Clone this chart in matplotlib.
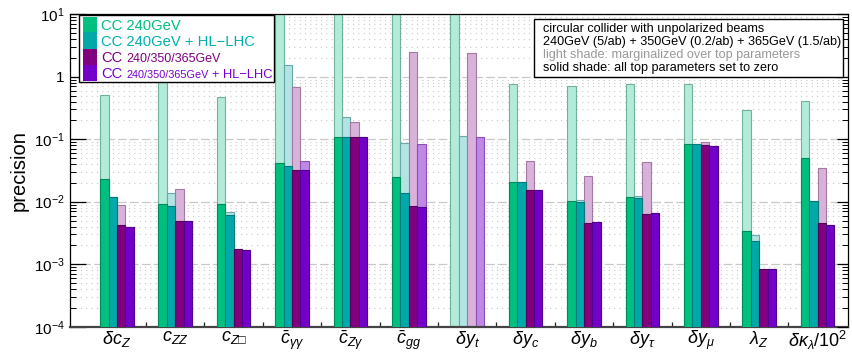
import numpy as np
import matplotlib
matplotlib.use("Agg")
import matplotlib.pyplot as plt
from matplotlib.patches import Rectangle
from matplotlib.ticker import FixedLocator, FixedFormatter, LogLocator, NullFormatter

plt.rcParams['font.family'] = ['Liberation Sans', 'DejaVu Sans']
plt.rcParams['mathtext.fontset'] = 'custom'
plt.rcParams['mathtext.rm'] = 'Liberation Sans'
plt.rcParams['mathtext.it'] = 'Liberation Sans:italic'
plt.rcParams['mathtext.bf'] = 'Liberation Sans:bold'
plt.rcParams['mathtext.fallback'] = 'stixsans'

# ---------------- data ----------------
labels = [r'$\delta c_Z$', r'$c_{ZZ}$', '$c_{Z\u25a1}$', r'$\bar{c}_{\gamma\gamma}$',
          r'$\bar{c}_{Z\gamma}$', r'$\bar{c}_{gg}$', r'$\delta y_t$', r'$\delta y_c$',
          r'$\delta y_b$', r'$\delta y_\tau$', r'$\delta y_\mu$', r'$\lambda_Z$',
          r'$\delta\kappa_\lambda/10^2$']
nan = np.nan
# light shade: marginalized over top parameters
green_light  = [0.51, 3.0, 0.468, 20, 20, 20, 20, 0.755, 0.71, 0.755, 0.755, 0.29, 0.413]
teal_light   = [0.012, 0.0136, 0.00676, 1.52, 0.224, 0.0859, 0.112, 0.0207, 0.0106, 0.0123, 0.0838, 0.0029, 0.0101]
purple_light = [0.00875, 0.0158, 0.00175, 0.676, 0.186, 2.46, 2.37, 0.0448, 0.0258, 0.0432, 0.0902, 0.000848, 0.0346]
violet_light = [0.00398, 0.0049, 0.0017, 0.0443, 0.107, 0.0838, 0.108, 0.0155, 0.0047, 0.0065, 0.0778, 0.000848, 0.0042]
# solid shade: all top parameters set to zero
green_solid  = [0.0231, 0.0092, 0.0092, 0.0411, 0.110, 0.0245, nan, 0.0209, 0.0103, 0.0120, 0.0838, 0.0034, 0.0506]
teal_solid   = [0.012, 0.0085, 0.00612, 0.0377, 0.110, 0.0136, nan, 0.0207, 0.0099, 0.0114, 0.0838, 0.00232, 0.0101]
purple_solid = [0.00419, 0.0049, 0.00175, 0.0321, 0.107, 0.0085, nan, 0.0156, 0.0045, 0.00643, 0.0798, 0.000848, 0.0045]
violet_solid = [0.00398, 0.0049, 0.0017, 0.0321, 0.107, 0.0082, nan, 0.0155, 0.0047, 0.0065, 0.0778, 0.000848, 0.0042]

series_names = ['CC 240GeV', 'CC 240GeV + HL\u2212LHC', 'CC 240/350/365GeV', 'CC 240/350/365GeV + HL\u2212LHC']
solid_colors = ['#00c080', '#00a8a8', '#800080', '#7300c8']
solid_edges  = ['#008a5c', '#007a7a', '#5a005a', '#50008c']
light_colors = ['#b2ebd9', '#b2e4e4', '#d9b2d9', '#bf88e4']
light_edges  = ['#6fb39a', '#6aa8a8', '#a478a4', '#8a50b8']

W, H = 852, 354
fig = plt.figure(figsize=(W/100, H/100), dpi=100)
def fx(px): return px / W
def fy(py): return 1 - py / H

ax = fig.add_axes([fx(70.3), fy(326.7), fx(848) - fx(70.3), fy(14.2) - fy(326.7)])
ax.set_yscale('log')
ax.set_ylim(1e-4, 10)
ax.set_xlim(-0.798, 12.52)
ax.set_axisbelow(True)

x = np.arange(len(labels))
bw = 0.1438
offs = np.array([-1.5, -0.5, 0.5, 1.5]) * bw
lights = [green_light, teal_light, purple_light, violet_light]
solids = [green_solid, teal_solid, purple_solid, violet_solid]
for k in range(4):
    ax.bar(x + offs[k], lights[k], bw, color=light_colors[k], edgecolor=light_edges[k], linewidth=0.8, zorder=2)
for k in range(4):
    ax.bar(x + offs[k], solids[k], bw, color=solid_colors[k], edgecolor=solid_edges[k], linewidth=0.8, zorder=3)

# grid
ax.yaxis.set_major_locator(FixedLocator([1e-4, 1e-3, 1e-2, 1e-1, 1, 10]))
ax.yaxis.set_major_formatter(FixedFormatter([r'$10^{-4}$', r'$10^{-3}$', r'$10^{-2}$', r'$10^{-1}$', '1', r'$10^{1}$']))
ax.yaxis.set_minor_locator(LogLocator(base=10, subs=np.arange(2, 10), numticks=20))
ax.yaxis.set_minor_formatter(NullFormatter())
ax.grid(which='major', axis='y', linestyle=(0, (7, 2.5)), color='#c8c8c8', linewidth=0.9)
ax.grid(which='minor', axis='y', linestyle=(0, (0.8, 4)), color='#bdbdbd', linewidth=0.8)

ax.tick_params(axis='y', which='major', direction='in', length=11.3, width=0.9, labelsize=11, pad=4,
               left=True, right=False)
ax.tick_params(axis='y', which='minor', direction='in', length=4.1, width=0.7, left=True, right=False)

# x ticks
ax.set_xticks(x)
ax.set_xticklabels(labels, fontsize=13)
ax.tick_params(axis='x', which='major', length=0, pad=1.5)
minor_x = [i + o for i in x for o in (-0.147, 0.082, 0.224)] + list(x[:-1] + 0.5)
ax.set_xticks(minor_x, minor=True)
ax.tick_params(axis='x', which='minor', direction='in', length=3.6, width=0.9, color='#222222', bottom=True, top=False)
for tk in ax.xaxis.get_minor_ticks():
    tk.tick1line.set_zorder(4)

for s in ['left', 'top', 'right']:
    ax.spines[s].set_linewidth(0.9)
ax.spines['bottom'].set_linewidth(1.6)
ax.spines['bottom'].set_color('#444444')

ax.set_ylabel('precision', fontsize=14.5, labelpad=4)

# right ticks
ax2 = ax.twinx()
ax2.set_yscale('log')
ax2.set_ylim(1e-4, 10)
ax2.yaxis.set_major_locator(FixedLocator([1e-4, 1e-3, 1e-2, 1e-1, 1, 10]))
ax2.yaxis.set_minor_locator(LogLocator(base=10, subs=np.arange(2, 10), numticks=20))
ax2.yaxis.set_minor_formatter(NullFormatter())
ax2.tick_params(axis='y', which='major', direction='in', length=7.7, width=0.9, labelright=False)
ax2.tick_params(axis='y', which='minor', direction='in', length=4.1, width=0.7)
for s in ax2.spines.values():
    s.set_visible(False)

# legend (manual)
fig.patches.append(Rectangle((fx(79.3), fy(82)), fx(274.3) - fx(79.3), fy(15.3) - fy(82),
                             transform=fig.transFigure, facecolor='white', edgecolor='black',
                             linewidth=1.0, zorder=10))
rows = [(16.7, 32.3), (32.3, 49), (49, 65), (65, 81)]
for k, (t, b) in enumerate(rows):
    fig.patches.append(Rectangle((fx(82.7), fy(b)), fx(96.7) - fx(82.7), fy(t) - fy(b),
                                 transform=fig.transFigure, facecolor=solid_colors[k],
                                 edgecolor='none', zorder=11))
text_colors = ['#00c080', '#00b0b0', '#800080', '#7a00d0']
fig.text(fx(101), fy(29.7), series_names[0], color=text_colors[0], fontsize=10.6, va='baseline', zorder=12)
fig.text(fx(101), fy(45.7), series_names[1], color=text_colors[1], fontsize=10.6, va='baseline', zorder=12)
fig.text(fx(101), fy(62.3), 'CC', color=text_colors[2], fontsize=10.6, va='baseline', zorder=12)
fig.text(fx(126.7), fy(62.3), series_names[2][3:], color=text_colors[2], fontsize=9.0, va='baseline', zorder=12)
fig.text(fx(101), fy(78.3), 'CC', color=text_colors[3], fontsize=10.6, va='baseline', zorder=12)
fig.text(fx(126.7), fy(78.3), '240/350/365GeV', color=text_colors[3], fontsize=7.8, va='baseline', zorder=12)
fig.text(fx(211.5), fy(78.3), '+ HL\u2212LHC', color=text_colors[3], fontsize=9.3, va='baseline', zorder=12)

# info box
fig.patches.append(Rectangle((fx(534), fy(77)), fx(843) - fx(534), fy(19) - fy(77),
                             transform=fig.transFigure, facecolor='white', edgecolor='black',
                             linewidth=1.0, zorder=10))
info = [('circular collider with unpolarized beams', 'black', 32.3),
        ('240GeV (5/ab) + 350GeV (0.2/ab) + 365GeV (1.5/ab)', 'black', 45.0),
        ('light shade: marginalized over top parameters', '#999999', 58.3),
        ('solid shade: all top parameters set to zero', 'black', 71.0)]
for s, c, yb in info:
    fig.text(fx(542.7), fy(yb), s, color=c, fontsize=9.1, va='baseline', zorder=12)

fig.savefig('out.png', dpi=100)
